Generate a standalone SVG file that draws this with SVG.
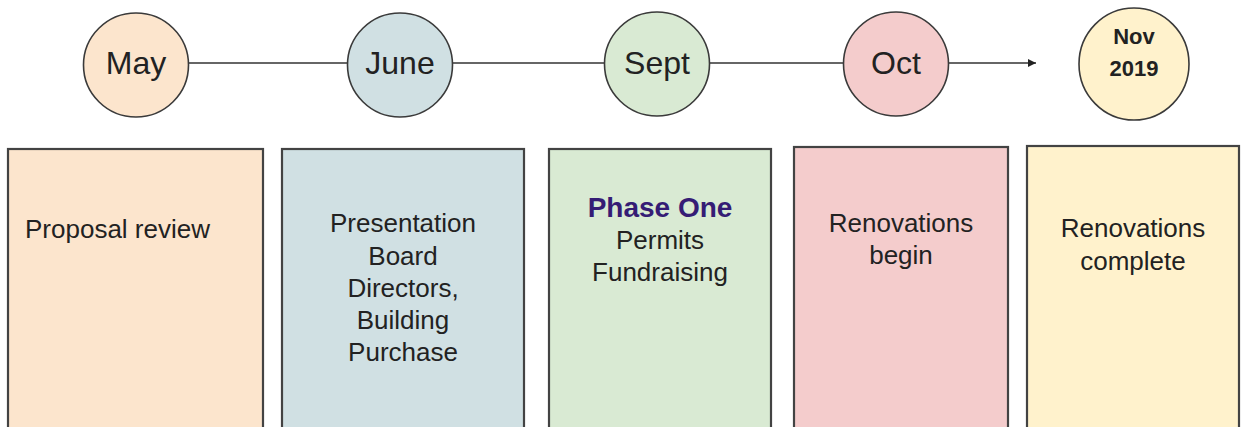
<svg xmlns="http://www.w3.org/2000/svg" width="1241" height="427" viewBox="0 0 1241 427">
<defs>
<style>
.c{stroke:#3a3a3a;stroke-width:1.6}
.b{stroke:#434343;stroke-width:2.2}
.t{font-family:"Liberation Sans",Arial,sans-serif;fill:#222}
.ct{font-size:32px;text-anchor:middle}
.bt{font-size:26px;text-anchor:middle}
.conn{stroke:#333;stroke-width:1.7;fill:none}
</style>
<marker id="ah" viewBox="0 0 10 10" refX="10" refY="5" markerWidth="11" markerHeight="8" markerUnits="userSpaceOnUse" orient="auto">
<path d="M0,0 L10,5 L0,10 z" fill="#222"/>
</marker>
</defs>
<rect width="1241" height="427" fill="#fff"/>
<g id="connectors">
<line class="conn" x1="188" y1="63" x2="348" y2="63"/>
<line class="conn" x1="453" y1="63" x2="606" y2="63"/>
<line class="conn" x1="709" y1="63" x2="843" y2="63"/>
<line class="conn" x1="948" y1="63" x2="1036" y2="63" marker-end="url(#ah)"/>
</g>
<g id="may">
<ellipse class="c" cx="136" cy="65" rx="52.5" ry="52" fill="#fce5cd"/>
<text class="t ct" x="136" y="74">May</text>
</g>
<g id="june">
<ellipse class="c" cx="400" cy="65" rx="52.5" ry="52" fill="#d0e0e3"/>
<text class="t ct" x="400" y="74">June</text>
</g>
<g id="sept">
<ellipse class="c" cx="657" cy="64" rx="52.5" ry="52" fill="#d9ead3"/>
<text class="t ct" x="657" y="74">Sept</text>
</g>
<g id="oct">
<ellipse class="c" cx="896" cy="64" rx="52.5" ry="52" fill="#f4cccc"/>
<text class="t ct" x="896" y="74">Oct</text>
</g>
<g id="nov">
<ellipse class="c" cx="1134" cy="64" rx="55" ry="56" fill="#fff2cc"/>
<text class="t" x="1134" y="44" font-size="22" font-weight="bold" text-anchor="middle">Nov</text>
<text class="t" x="1134" y="76" font-size="22" font-weight="bold" text-anchor="middle">2019</text>
</g>
<g id="box-proposal">
<rect class="b" x="8" y="149" width="255" height="290" fill="#fce5cd"/>
<text class="t" x="25" y="238" font-size="26">Proposal review</text>
</g>
<g id="box-presentation">
<rect class="b" x="282" y="149" width="242" height="290" fill="#d0e0e3"/>
<text class="t bt" x="403" y="232">Presentation</text>
<text class="t bt" x="403" y="265">Board</text>
<text class="t bt" x="403" y="297">Directors,</text>
<text class="t bt" x="403" y="329">Building</text>
<text class="t bt" x="403" y="361">Purchase</text>
</g>
<g id="box-phase-one">
<rect class="b" x="549" y="149" width="222" height="290" fill="#d9ead3"/>
<text class="t" x="660" y="217" font-size="28" font-weight="bold" text-anchor="middle" style="fill:#351c75">Phase One</text>
<text class="t bt" x="660" y="249">Permits</text>
<text class="t bt" x="660" y="281">Fundraising</text>
</g>
<g id="box-renovations-begin">
<rect class="b" x="794" y="147" width="214" height="290" fill="#f4cccc"/>
<text class="t bt" x="901" y="232">Renovations</text>
<text class="t bt" x="901" y="264">begin</text>
</g>
<g id="box-renovations-complete">
<rect class="b" x="1027" y="146" width="212" height="290" fill="#fff2cc"/>
<text class="t bt" x="1133" y="237">Renovations</text>
<text class="t bt" x="1133" y="270">complete</text>
</g>
</svg>
